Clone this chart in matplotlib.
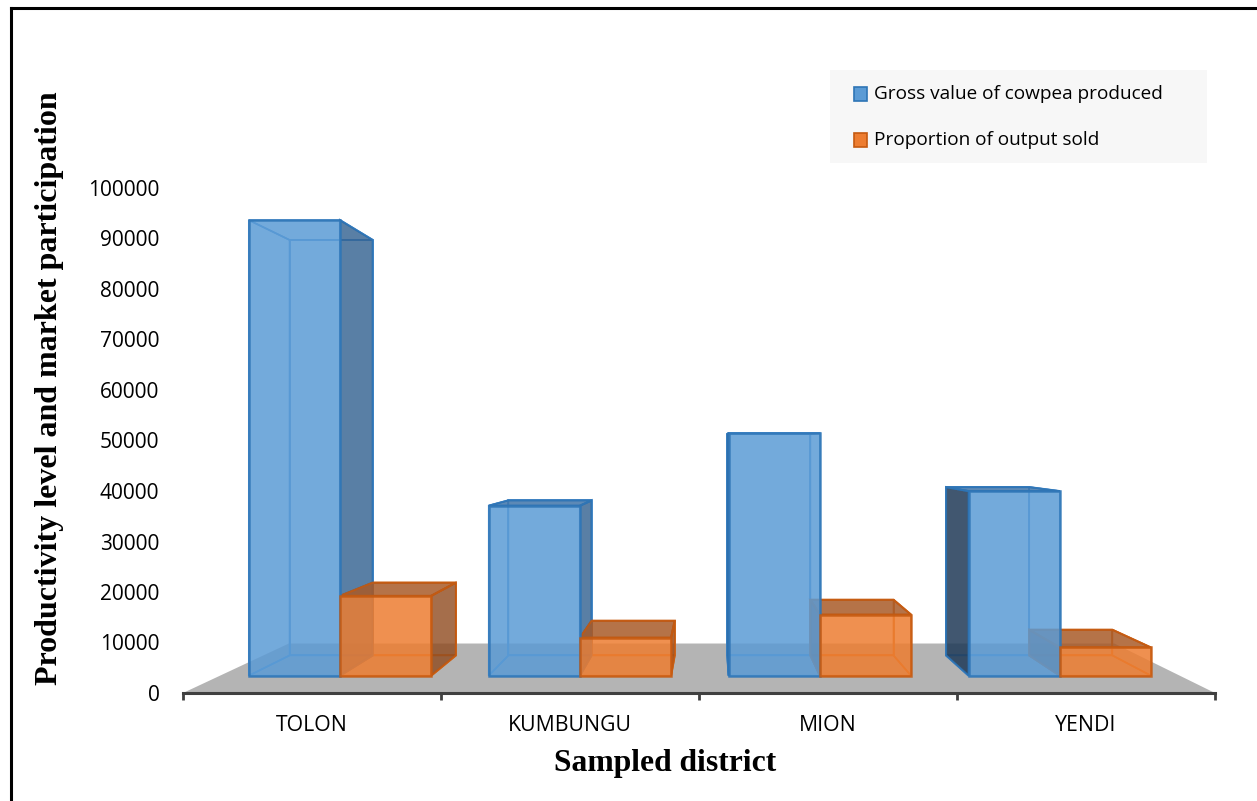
import matplotlib
matplotlib.use("Agg")
import matplotlib.pyplot as plt
from matplotlib.patches import Polygon, Rectangle
from matplotlib.lines import Line2D

districts = ["TOLON", "KUMBUNGU", "MION", "YENDI"]
gross_value = [97000, 36200, 51700, 39300]
output_sold = [17000, 8100, 13000, 6000]
series_names = ["Gross value of cowpea produced", "Proportion of output sold"]
yticks = list(range(0, 100001, 10000))

# fake perspective, all in data units
VPX, VPY = 1.55, 49000      # vanishing point
S_FRONT = 0.93              # depth of the bar front faces
S_BACK = 0.93 * 0.912       # depth of the bar back faces
S_FLOOR = 0.8               # back edge of the floor
BAR_W = 0.38

blue = dict(face="#5B9BD5", edge="#2E75B6", back="#4A8ED0", side_r="#2F5F8F",
            side_l="#1F3A57", top="#3F75AA")
orange = dict(face="#ED7D31", edge="#C55A11", back="#D9701F", side_r="#8F4A1E",
              side_l="#8F4A1E", top="#A85A28")

plt.rcParams["font.family"] = ["Open Sans", "DejaVu Sans"]

fig = plt.figure(figsize=(12.57, 8.01), dpi=100)
ax = fig.add_axes([183 / 1257, 1 - 693 / 801, 1032 / 1257, 505 / 801])
ax.set_xlim(-0.5, 3.5)
ax.set_ylim(0, 100000)


def proj(x, y, s):
    return (VPX + (x - VPX) * s, VPY + (y - VPY) * s)


def box(x0, x1, h):
    f = lambda x, y: proj(x, y, S_FRONT)
    b = lambda x, y: proj(x, y, S_BACK)
    faces = {
        "front": [f(x0, 0), f(x1, 0), f(x1, h), f(x0, h)],
        "back": [b(x0, 0), b(x1, 0), b(x1, h), b(x0, h)],
        "left": [f(x0, 0), f(x0, h), b(x0, h), b(x0, 0)],
        "right": [f(x1, 0), f(x1, h), b(x1, h), b(x1, 0)],
        "top": [f(x0, h), f(x1, h), b(x1, h), b(x0, h)],
        "bottom": [f(x0, 0), f(x1, 0), b(x1, 0), b(x0, 0)],
    }
    return faces


# floor
floor = [proj(-0.5, 0, 1), proj(3.5, 0, 1), proj(3.5, 0, S_FLOOR), proj(-0.5, 0, S_FLOOR)]
ax.add_patch(Polygon(floor, closed=True, facecolor="#B4B4B4", edgecolor="none", zorder=1))

bars = []
for i in range(len(districts)):
    bars.append((box(i - BAR_W, i, gross_value[i]), blue, i - BAR_W, i, gross_value[i]))
    bars.append((box(i, i + BAR_W, output_sold[i]), orange, i, i + BAR_W, output_sold[i]))

# hidden edges first, they show through the front faces
for faces, c, x0, x1, h in bars:
    for name in ["back", "bottom", "left", "right", "top"]:
        ax.add_patch(Polygon(faces[name], closed=True, fill=False, edgecolor=c["back"],
                             linewidth=1.2, zorder=2))

# visible sides
for faces, c, x0, x1, h in bars:
    if x1 < VPX:
        ax.add_patch(Polygon(faces["right"], closed=True, facecolor=c["side_r"], alpha=0.8,
                             edgecolor=c["edge"], linewidth=1.5, zorder=3))
    if x0 > VPX:
        ax.add_patch(Polygon(faces["left"], closed=True, facecolor=c["side_l"], alpha=0.85,
                             edgecolor=c["edge"], linewidth=1.5, zorder=3))

# visible tops
for faces, c, x0, x1, h in bars:
    if h < VPY:
        ax.add_patch(Polygon(faces["top"], closed=True, facecolor=c["top"], alpha=0.85,
                             edgecolor=c["edge"], linewidth=1.5, zorder=4))

# front faces
for faces, c, x0, x1, h in bars:
    ax.add_patch(Polygon(faces["front"], closed=True, facecolor=c["face"], alpha=0.85,
                         edgecolor=c["edge"], linewidth=1.8, zorder=5))

for s in ["top", "right", "left"]:
    ax.spines[s].set_visible(False)
ax.spines["bottom"].set_color("#404040")
ax.spines["bottom"].set_linewidth(2.2)
ax.spines["bottom"].set_zorder(6)

ax.set_xticks([i - 0.5 for i in range(len(districts) + 1)])
ax.set_xticklabels([])
ax.tick_params(axis="x", which="major", length=5, width=2, color="#404040")
ax.set_xticks(range(len(districts)), minor=True)
ax.set_xticklabels(districts, minor=True, fontsize=15.3)
ax.tick_params(axis="x", which="minor", length=0, pad=16)

ax.set_yticks(yticks)
ax.set_yticklabels([str(v) for v in yticks], fontsize=15)
ax.tick_params(axis="y", length=0, pad=17)
ax.patch.set_alpha(0)

fig.text(665 / 1257, 1 - 764 / 801, "Sampled district", ha="center", va="center",
         family="Liberation Serif", fontweight="bold", fontsize=22.8)
fig.text(50 / 1257, 1 - 388 / 801, "Productivity level and market participation", rotation=90,
         ha="center", va="center", family="Liberation Serif", fontweight="bold", fontsize=23)

# legend, drawn by hand
fig.add_artist(Rectangle((830 / 1257, 1 - 163 / 801), 377 / 1257, 93 / 801,
                         transform=fig.transFigure, facecolor="#F7F7F7", edgecolor="none"))
for k, (name, c) in enumerate(zip(series_names, [blue, orange])):
    yc = 1 - (94 + 46 * k) / 801
    fig.add_artist(Rectangle((854 / 1257, yc - 6.5 / 801), 13 / 1257, 13 / 801,
                             transform=fig.transFigure, facecolor=c["face"],
                             edgecolor=c["edge"], linewidth=1.2))
    fig.text(874 / 1257, yc, name, ha="left", va="center", fontsize=13.7)

# outer frame (only top and left visible)
fig.add_artist(Line2D([11 / 1257, 1], [1 - 8 / 801, 1 - 8 / 801], color="black", linewidth=2.2,
                      transform=fig.transFigure))
fig.add_artist(Line2D([11 / 1257, 11 / 1257], [0, 1 - 8 / 801], color="black", linewidth=2.2,
                      transform=fig.transFigure))

fig.savefig("out.png", dpi=100)
